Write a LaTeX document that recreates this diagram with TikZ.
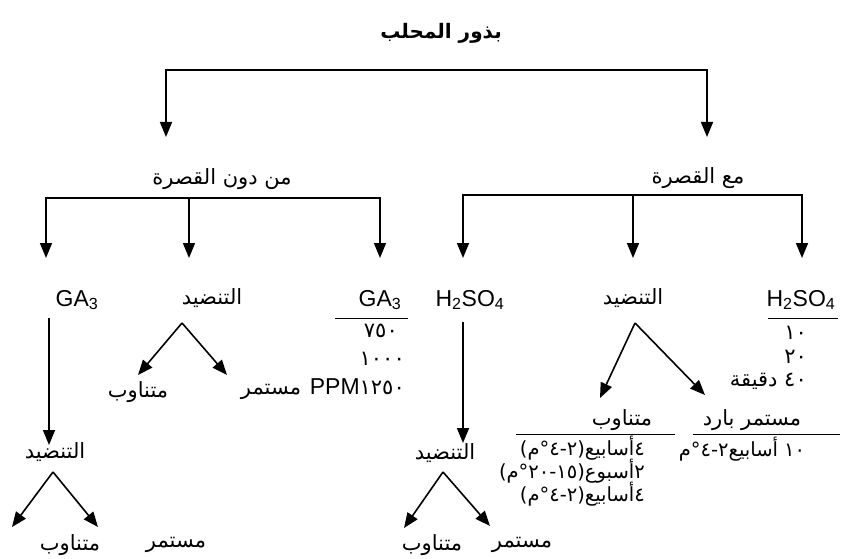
\documentclass[tikz,border=0pt]{standalone}
\usepackage{fontspec}
\setmainfont{Liberation Sans}
\newfontfamily\arabicfont[Script=Arabic]{DejaVu Sans}
\TeXXeTstate=1
\usetikzlibrary{arrows.meta}
\newcommand{\ar}[1]{{\arabicfont\beginR #1\endR}}
\tikzset{
  lbl/.style={inner sep=1pt, font=\fontsize{21}{24}\selectfont},
  small/.style={inner sep=1pt, font=\fontsize{19.5}{22}\selectfont},
  chem/.style={inner sep=1pt, font=\fontsize{23}{26}\selectfont},
  flow/.style={line width=1.6pt, -{Triangle[length=15pt,width=12pt]}},
  fork/.style={line width=1.6pt, {Triangle[length=15pt,width=12pt]}-{Triangle[length=15pt,width=12pt]}},
  rule/.style={line width=1pt},
}
\begin{document}
\begin{tikzpicture}[x=1pt, y=-1pt]
\useasboundingbox (0,0) rectangle (848,559);
%--- Title and first split ---
\node[lbl, font=\fontsize{20}{23}\selectfont\bfseries] (seeds) at (441,33) {\ar{بذور المحلب}};
\coordinate (topBar) at (441,70);
\coordinate (topLeft) at (166,137);
\coordinate (topRight) at (707,137);
\draw[fork] (topLeft) |- (topBar) -| (topRight);
\node[lbl] (noCoat) at (222,179) {\ar{من دون القصرة}};
\node[lbl] (withCoat) at (698,178) {\ar{مع القصرة}};
%--- Seeds without coat ---
\coordinate (noBar) at (189,198);
\coordinate (noA) at (46,258);
\coordinate (noB) at (189,258);
\coordinate (noC) at (380,258);
\draw[fork] (noA) |- (noBar) -| (noC);
\draw[flow] (noBar) -- (noB);
\node[chem] (gaLeft) at (77,300) {GA\textsubscript{3}};
\node[lbl] (sortLeft) at (212,298) {\ar{التنضيد}};
\node[chem] (gaMid) at (380,300) {GA\textsubscript{3}};
\draw[rule] (335,318) -- (408,318);
\node[lbl, anchor=east] (ppmA) at (399,331) {{\arabicfont ٧٥٠}};
\node[lbl, anchor=east] (ppmB) at (406,359) {{\arabicfont ١٠٠٠}};
\node[lbl, anchor=east] (ppmC) at (406,387) {{\fontsize{23}{26}\selectfont PPM}{\arabicfont ١٢٥٠}};
% stratification under the middle branch
\coordinate (sortLeftApex) at (182,323);
\coordinate (sortLeftA) at (138,375);
\coordinate (sortLeftB) at (227,375);
\draw[flow] (sortLeftApex) -- (sortLeftA);
\draw[flow] (sortLeftApex) -- (sortLeftB);
\node[lbl] (altLeft) at (138,392) {\ar{متناوب}};
\node[lbl] (contLeft) at (271,392) {\ar{مستمر}};
% GA3 then stratification
\coordinate (gaDownTop) at (49,318);
\coordinate (gaDownEnd) at (49,445);
\draw[flow] (gaDownTop) -- (gaDownEnd);
\node[lbl] (sortLow) at (55,452) {\ar{التنضيد}};
\coordinate (sortLowApex) at (53,472);
\coordinate (sortLowA) at (12,527);
\coordinate (sortLowB) at (98,527);
\draw[flow] (sortLowApex) -- (sortLowA);
\draw[flow] (sortLowApex) -- (sortLowB);
\node[lbl] (altLow) at (70,545) {\ar{متناوب}};
\node[lbl] (contLow) at (176,545) {\ar{مستمر}};
%--- Seeds with coat ---
\coordinate (withBar) at (633,195);
\coordinate (withA) at (463,258);
\coordinate (withB) at (633,258);
\coordinate (withC) at (802,258);
\draw[fork] (withA) |- (withBar) -| (withC);
\draw[flow] (withBar) -- (withB);
\node[chem] (acidMid) at (470,300) {H\textsubscript{2}SO\textsubscript{4}};
\node[lbl] (sortRight) at (633,298) {\ar{التنضيد}};
\node[chem] (acidRight) at (801,300) {H\textsubscript{2}SO\textsubscript{4}};
\draw[rule] (768,318) -- (838,318);
\node[lbl, anchor=east] (minA) at (808,333) {{\arabicfont ١٠}};
\node[lbl, anchor=east] (minB) at (808,357) {{\arabicfont ٢٠}};
\node[lbl, anchor=east] (minC) at (808,381) {\ar{٤٠ دقيقة}};
% H2SO4 then stratification
\coordinate (acidDownTop) at (463,322);
\coordinate (acidDownEnd) at (463,443);
\draw[flow] (acidDownTop) -- (acidDownEnd);
\node[lbl] (sortMidLow) at (445,453) {\ar{التنضيد}};
\coordinate (sortMidApex) at (443,472);
\coordinate (sortMidA) at (404,528);
\coordinate (sortMidB) at (490,526);
\draw[flow] (sortMidApex) -- (sortMidA);
\draw[flow] (sortMidApex) -- (sortMidB);
\node[lbl] (altMidLow) at (432,545) {\ar{متناوب}};
\node[lbl] (contMidLow) at (522,545) {\ar{مستمر}};
% stratification with its schedules
\coordinate (sortRightApex) at (635,323);
\coordinate (sortRightA) at (600,398);
\coordinate (sortRightB) at (705,395);
\draw[flow] (sortRightApex) -- (sortRightA);
\draw[flow] (sortRightApex) -- (sortRightB);
\node[lbl] (altRight) at (622,420) {\ar{متناوب}};
\draw[rule] (516,434) -- (675,434);
\node[lbl] (coldRight) at (752,420) {\ar{مستمر بارد}};
\draw[rule] (693,434) -- (840,434);
\node[small, anchor=east] (weeksA) at (646,448) {\ar{٤أسابيع(٢-٤°م)}};
\node[small, anchor=east] (weeksB) at (646,471) {\ar{٢أسبوع(١٥-٢٠°م)}};
\node[small, anchor=east] (weeksC) at (646,494) {\ar{٤أسابيع(٢-٤°م)}};
\node[small] (weeksCold) at (742,449) {\ar{١٠ أسابيع٢-٤°م}};
\end{tikzpicture}
\end{document}
